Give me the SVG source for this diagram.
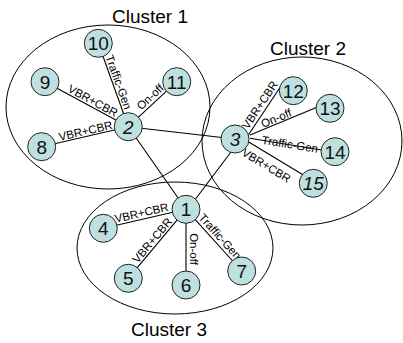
<svg xmlns="http://www.w3.org/2000/svg" width="403" height="343" viewBox="0 0 403 343">
<style>
.cl{fill:none;stroke:#000;stroke-width:1}
.ct{font-family:"Liberation Sans",Arial,sans-serif;font-size:19px;fill:#000}
.e line{stroke:#000;stroke-width:1.1}
.lb{font-family:"Liberation Sans",Arial,sans-serif;font-size:11.5px;fill:#000;text-anchor:middle}
.n circle{fill:#BEE0E0;stroke:#222;stroke-width:1}
.n text{font-family:"Liberation Sans",Arial,sans-serif;font-size:19px;fill:#111;text-anchor:middle}
</style>
<rect width="403" height="343" fill="#fff"/>
<g id="clusters">
<ellipse class="cl" cx="108" cy="107" rx="102" ry="82"/>
<ellipse class="cl" cx="302" cy="141" rx="100" ry="84"/>
<ellipse class="cl" cx="175" cy="248" rx="98" ry="66"/>
<text class="ct" x="112" y="23">Cluster 1</text>
<text class="ct" x="270" y="55">Cluster 2</text>
<text class="ct" x="131" y="336">Cluster 3</text>
</g>
<g id="connectors" class="e">
<line x1="45" y1="81.7" x2="128.3" y2="126.7"/>
<line x1="41.7" y1="146.7" x2="128.3" y2="126.7"/>
<line x1="98.3" y1="43.3" x2="128.3" y2="126.7"/>
<line x1="128.3" y1="126.7" x2="176.7" y2="81.7"/>
<line x1="128.3" y1="126.7" x2="235" y2="139"/>
<line x1="128.3" y1="126.7" x2="186" y2="209.3"/>
<line x1="240" y1="140" x2="188" y2="209"/>
<line x1="248.3" y1="135" x2="281" y2="86"/>
<line x1="250" y1="135" x2="320" y2="106"/>
<line x1="250" y1="138.3" x2="323" y2="150.2"/>
<line x1="248.3" y1="141.7" x2="305" y2="176"/>
<line x1="103.3" y1="228.3" x2="186" y2="209.3"/>
<line x1="128.3" y1="278.3" x2="186" y2="209.3"/>
<line x1="186" y1="209.3" x2="186" y2="285"/>
<line x1="186" y1="209.3" x2="241.7" y2="271"/>
<g id="edge-labels">
<text class="lb" transform="translate(90,106) rotate(28.4)" y="-2">VBR+CBR</text>
<text class="lb" transform="translate(86.7,136.3) rotate(-13)" y="-1.5">VBR+CBR</text>
<text class="lb" transform="translate(113,84.2) rotate(70.2)" y="-2">Traffic-Gen</text>
<text class="lb" transform="translate(154.9,102) rotate(-42.9)" y="-3">On-off</text>
<text class="lb" transform="translate(265.7,108.8) rotate(-56.4)" y="-3">VBR+CBR</text>
<text class="lb" transform="translate(278.3,123.3) rotate(-22.4)" y="-1.5">On-off</text>
<text class="lb" transform="translate(289.8,144.8) rotate(9.3)" y="3.5">Traffic-Gen</text>
<text class="lb" transform="translate(272.1,156.1) rotate(31.2)" y="15">VBR+CBR</text>
<text class="lb" transform="translate(143,219.2) rotate(-12.9)" y="-2.5">VBR+CBR</text>
<text class="lb" transform="translate(156.8,244.2) rotate(-50.1)" y="-2">VBR+CBR</text>
<text class="lb" transform="translate(186,249) rotate(90)" y="-4">On-off</text>
<text class="lb" transform="translate(214.8,241.2) rotate(47.9)" y="-3">Traffic-Gen</text>
</g>
</g>
<g id="node-1" class="n"><circle cx="186" cy="209.3" r="14"/><text x="186" y="216.3">1</text></g>
<g id="node-2" class="n"><circle cx="128.3" cy="126.7" r="14"/><text x="128.3" y="133.7" font-style="italic">2</text></g>
<g id="node-3" class="n"><circle cx="235" cy="139" r="14"/><text x="235" y="146" font-style="italic">3</text></g>
<g id="node-4" class="n"><circle cx="103.3" cy="228.3" r="14"/><text x="103.3" y="235.3">4</text></g>
<g id="node-5" class="n"><circle cx="128.3" cy="278.3" r="14"/><text x="128.3" y="285.3">5</text></g>
<g id="node-6" class="n"><circle cx="186" cy="285" r="14"/><text x="186" y="292">6</text></g>
<g id="node-7" class="n"><circle cx="241.7" cy="271" r="14"/><text x="241.7" y="278">7</text></g>
<g id="node-8" class="n"><circle cx="41.7" cy="146.7" r="14"/><text x="41.7" y="153.7">8</text></g>
<g id="node-9" class="n"><circle cx="45" cy="81.7" r="14"/><text x="45" y="88.7">9</text></g>
<g id="node-10" class="n"><circle cx="98.3" cy="43.3" r="14"/><text x="98.3" y="50.3">10</text></g>
<g id="node-11" class="n"><circle cx="176.7" cy="81.7" r="14"/><text x="176.7" y="88.7">11</text></g>
<g id="node-12" class="n"><circle cx="293.3" cy="90.7" r="14"/><text x="293.3" y="97.7">12</text></g>
<g id="node-13" class="n"><circle cx="330" cy="108.3" r="14"/><text x="330" y="115.3">13</text></g>
<g id="node-14" class="n"><circle cx="335" cy="151.7" r="14"/><text x="335" y="158.7">14</text></g>
<g id="node-15" class="n"><circle cx="313.3" cy="183.3" r="14"/><text x="313.3" y="190.3" font-style="italic">15</text></g>
</svg>
